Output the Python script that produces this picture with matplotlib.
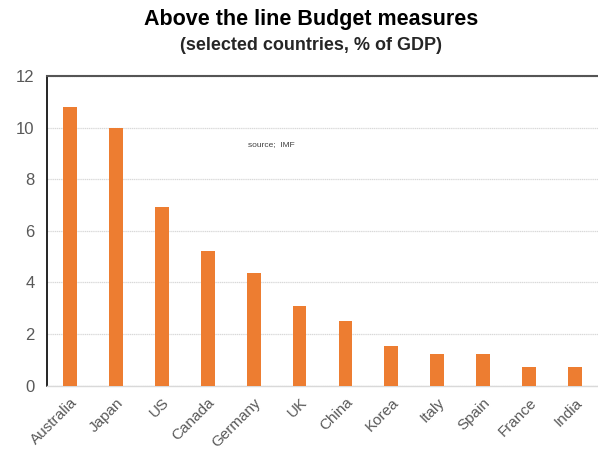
import numpy as np
import matplotlib.pyplot as plt

# Above the line budget measures, % of GDP
countries = ['Australia', 'Japan', 'US', 'Canada', 'Germany', 'UK',
             'China', 'Korea', 'Italy', 'Spain', 'France', 'India']
measures = [10.8, 10.0, 6.92, 5.21, 4.38, 3.09, 2.52, 1.53, 1.22, 1.22, 0.71, 0.71]
yticks = [0, 2, 4, 6, 8, 10, 12]

plt.rcParams['font.family'] = ['Liberation Sans', 'DejaVu Sans']

fig = plt.figure(figsize=(5.98, 4.5), dpi=100)
ax = fig.add_axes([47 / 598, 1 - 385.7 / 450, (598 - 47) / 598, (385.7 - 76) / 450])

x = np.arange(len(countries))
ax.bar(x, measures, width=0.3, color='#ED7D31', zorder=3)

ax.set_xlim(-0.5, len(countries) - 0.5)
ax.set_ylim(0, 12)
ax.set_yticks(yticks)
ax.set_xticks(x)
ax.set_xticklabels(countries, rotation=45, ha='right', rotation_mode='anchor')
ax.tick_params(axis='both', length=0, colors='#595959')
ax.tick_params(axis='y', pad=9, labelsize=12)
ax.tick_params(axis='x', pad=7, labelsize=11)

ax.grid(True, axis='y', color='#d9d9d9', linestyle=(0, (1, 0.5)), linewidth=0.9, zorder=0)

ax.spines['left'].set_color('black')
ax.spines['left'].set_linewidth(1.2)
ax.spines['top'].set_color('#555555')
ax.spines['top'].set_linewidth(1.5)
ax.spines['right'].set_visible(False)
ax.spines['bottom'].set_color('#d9d9d9')
ax.spines['bottom'].set_linewidth(1)

fig.text(311 / 598, 1 - 20 / 450, 'Above the line Budget measures', ha='center', va='center',
         fontsize=15.5, fontweight='bold')
fig.text(311 / 598, 1 - 45 / 450, '(selected countries, % of GDP)', ha='center', va='center',
         fontsize=13, fontweight='bold', color='#262626')
fig.text(248 / 598, 1 - 145 / 450, 'source;  IMF', fontsize=6, color='#404040',
         ha='left', va='center')

fig.savefig('out.png', dpi=100)
